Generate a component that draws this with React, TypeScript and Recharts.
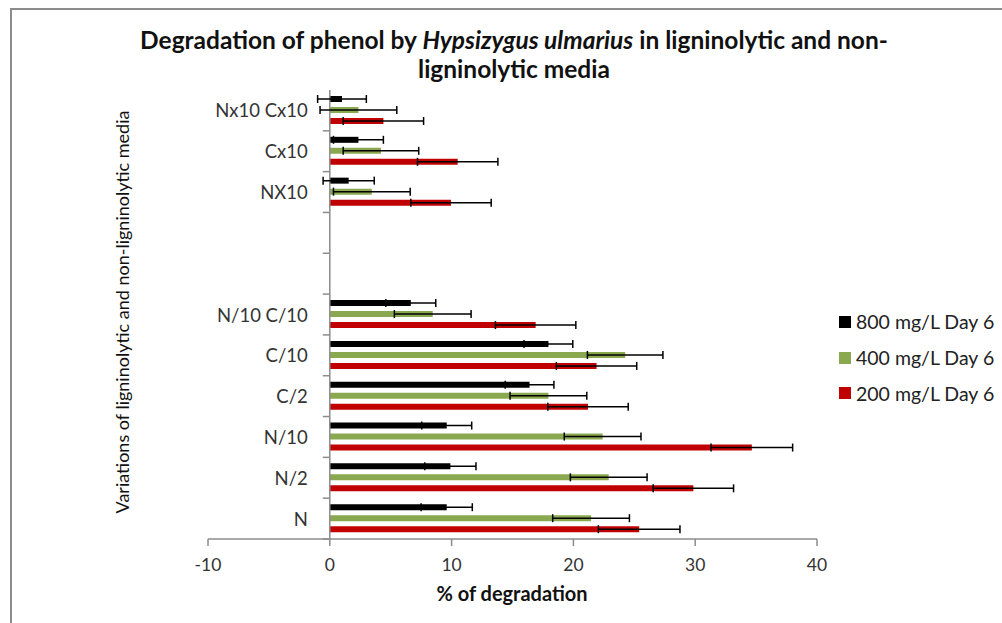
import React from 'react';
import { BarChart, Bar, XAxis, YAxis, ErrorBar, ReferenceLine } from 'recharts';

// Categories listed top to bottom (blank entries are the empty slots of the original chart)
const categories = ["Nx10 Cx10", "Cx10", "NX10", " ", "  ", "N/10 C/10", "C/10", "C/2", "N/10", "N/2", "N"];
const day6_800 = [1.0, 2.35, 1.55, null, null, 6.65, 17.95, 16.4, 9.6, 9.9, 9.6];
const err_800 = [2.0, 2.05, 2.1, null, null, 2.05, 2.0, 2.0, 2.05, 2.1, 2.1];
const day6_400 = [2.35, 4.2, 3.45, null, null, 8.45, 24.25, 17.95, 22.4, 22.9, 21.45];
const err_400 = [3.15, 3.1, 3.15, null, null, 3.15, 3.1, 3.15, 3.15, 3.15, 3.15];
const day6_200 = [4.4, 10.5, 9.95, null, null, 16.9, 21.9, 21.2, 34.65, 29.85, 25.4];
const err_200 = [3.3, 3.3, 3.3, null, null, 3.3, 3.3, 3.3, 3.35, 3.3, 3.35];
const xTicks = [-10, 0, 10, 20, 30, 40];
const seriesNames = ["800 mg/L Day 6", "400 mg/L Day 6", "200 mg/L Day 6"];

const W = 1002;
const H = 623;
const MARGIN = { top: 90, right: 185, bottom: 24, left: 8 };
const Y_AXIS_W = 200;
const X_AXIS_H = 60;
const X_MIN = -10;
const X_MAX = 40;
const PLOT_LEFT = MARGIN.left + Y_AXIS_W;
const PLOT_W = W - MARGIN.right - PLOT_LEFT;
const PLOT_H = H - MARGIN.top - MARGIN.bottom - X_AXIS_H;
const BAND = PLOT_H / categories.length;
const ZERO_X = PLOT_LEFT + ((0 - X_MIN) / (X_MAX - X_MIN)) * PLOT_W;

const FONT = "Lato, Carlito, Calibri, 'Open Sans', sans-serif";
const AXIS_GRAY = '#8c8c8c';
const COLORS = ['#000000', '#8AA84F', '#C00000'];

const data = categories.map((cat, i) => ({
  cat,
  v800: day6_800[i],
  e800: err_800[i],
  v400: day6_400[i],
  e400: err_400[i],
  v200: day6_200[i],
  e200: err_200[i],
}));

const CategoryTick = (props: any) => {
  const { y, payload } = props;
  const label = String(payload.value).trim();
  return (
    <g>
      {label && (
        <text
          x={ZERO_X - 22}
          y={y}
          textAnchor="end"
          dominantBaseline="central"
          fontFamily={FONT}
          fontSize={18.5}
          fill="#333"
        >
          {label}
        </text>
      )}
      <line x1={ZERO_X - 7} x2={ZERO_X} y1={y + BAND / 2} y2={y + BAND / 2} stroke={AXIS_GRAY} strokeWidth={1.5} />
    </g>
  );
};

export default function App() {
  return (
    <div style={{ position: 'absolute', left: 0, top: 0, width: W, height: H, background: '#fff', overflow: 'hidden' }}>
      <div
        style={{
          position: 'absolute',
          left: 10,
          top: 8,
          right: 0,
          bottom: 0,
          borderTop: `2px solid ${AXIS_GRAY}`,
          borderLeft: `2px solid ${AXIS_GRAY}`,
        }}
      />
      <div style={{ position: 'absolute', left: 0, top: 0 }}>
        <BarChart
          width={W}
          height={H}
          data={data}
          layout="vertical"
          margin={MARGIN}
          barSize={6}
          barGap={5}
        >
          <XAxis
            type="number"
            domain={[X_MIN, X_MAX]}
            ticks={xTicks}
            height={X_AXIS_H}
            axisLine={{ stroke: AXIS_GRAY, strokeWidth: 1.5 }}
            tickLine={{ stroke: AXIS_GRAY, strokeWidth: 1.5 }}
            tickSize={7}
            tickMargin={13}
            tick={{ fontFamily: FONT, fontSize: 17.5, fill: '#333' }}
            allowDataOverflow
          />
          <YAxis
            type="category"
            dataKey="cat"
            width={Y_AXIS_W}
            axisLine={false}
            tickLine={false}
            tick={<CategoryTick />}
            interval={0}
          />
          <ReferenceLine x={0} stroke={AXIS_GRAY} strokeWidth={1.5} />
          <Bar dataKey="v800" name={seriesNames[0]} fill={COLORS[0]} isAnimationActive={false}>
            <ErrorBar dataKey="e800" direction="x" width={4} stroke="#000" strokeWidth={1.5} />
          </Bar>
          <Bar dataKey="v400" name={seriesNames[1]} fill={COLORS[1]} isAnimationActive={false}>
            <ErrorBar dataKey="e400" direction="x" width={4} stroke="#000" strokeWidth={1.5} />
          </Bar>
          <Bar dataKey="v200" name={seriesNames[2]} fill={COLORS[2]} isAnimationActive={false}>
            <ErrorBar dataKey="e200" direction="x" width={4} stroke="#000" strokeWidth={1.5} />
          </Bar>
        </BarChart>
      </div>
      <div style={{ position: 'absolute', left: 839, top: 304, fontFamily: FONT, fontSize: 19.5, color: '#222' }}>
        {seriesNames.map((name, i) => (
          <div key={name} style={{ display: 'flex', alignItems: 'center', height: 35.7 }}>
            <span style={{ display: 'inline-block', width: 12, height: 12, background: COLORS[i], marginRight: 5 }} />
            <span style={{ whiteSpace: 'nowrap' }}>{name}</span>
          </div>
        ))}
      </div>
      <div
        style={{
          position: 'absolute',
          left: 28,
          width: 972,
          top: 25,
          textAlign: 'center',
          fontFamily: FONT,
          fontWeight: 'bold',
          fontSize: 24.5,
          lineHeight: '29px',
          color: '#111',
          whiteSpace: 'nowrap',
        }}
      >
        Degradation of phenol by <i>Hypsizygus ulmarius</i> in ligninolytic and non-
        <br />
        ligninolytic media
      </div>
      <div
        style={{
          position: 'absolute',
          left: 122 - 260,
          top: 312 - 12,
          width: 520,
          height: 24,
          lineHeight: '24px',
          textAlign: 'center',
          transform: 'rotate(-90deg)',
          transformOrigin: 'center',
          fontFamily: FONT,
          fontSize: 18,
          color: '#111',
          whiteSpace: 'nowrap',
        }}
      >
        Variations of ligninolytic and non-ligninolytic media
      </div>
      <div
        style={{
          position: 'absolute',
          left: 512 - 150,
          top: 593 - 12,
          width: 300,
          height: 24,
          lineHeight: '24px',
          textAlign: 'center',
          fontFamily: FONT,
          fontWeight: 'bold',
          fontSize: 20,
          color: '#111',
        }}
      >
        % of degradation
      </div>
    </div>
  );
}
